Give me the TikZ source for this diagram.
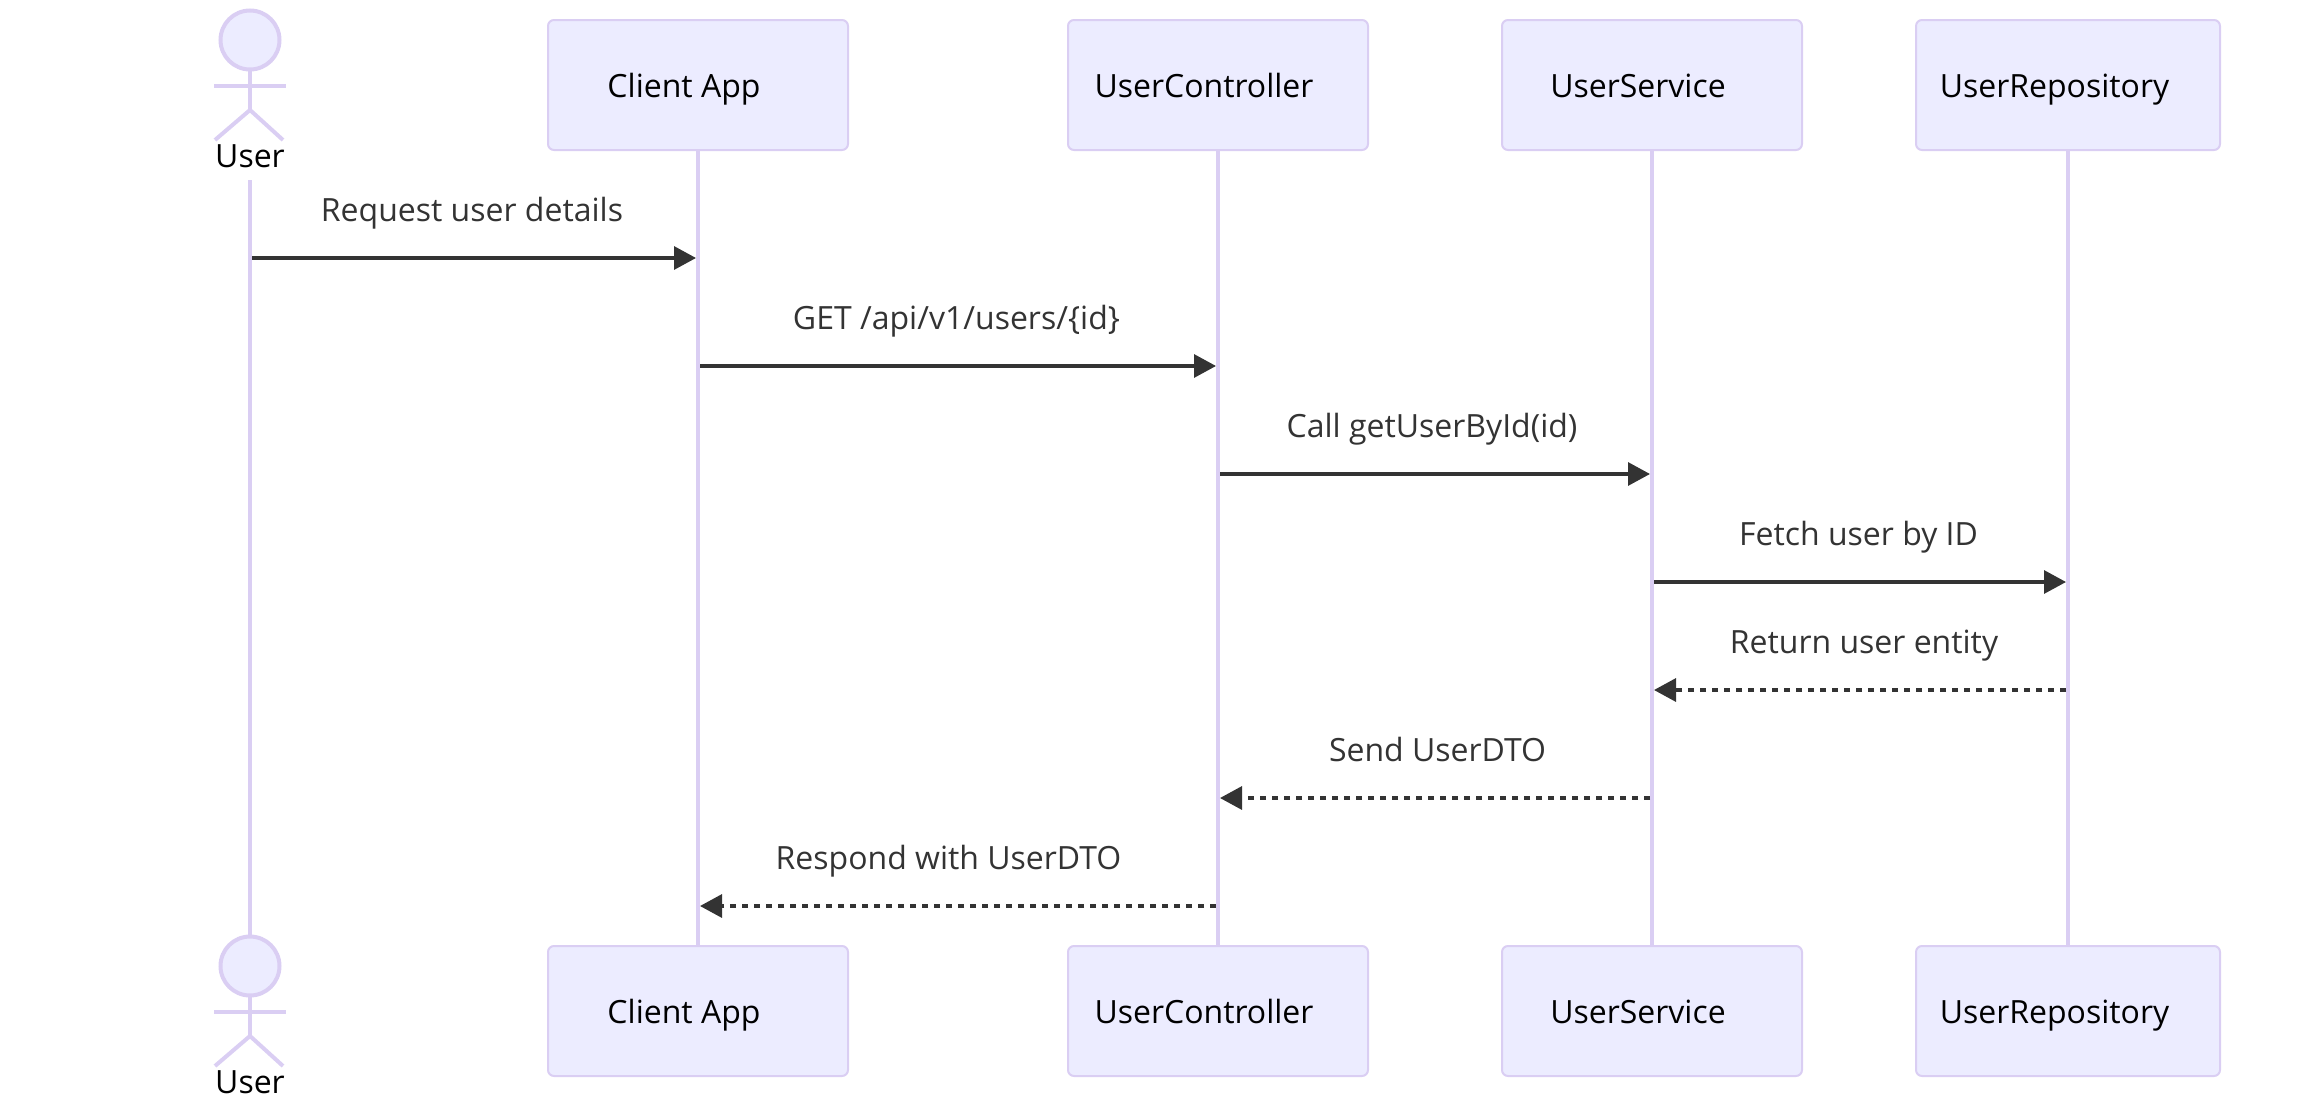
\documentclass[tikz,border=0pt]{standalone}
\usepackage{fontspec}
\setmainfont{Open Sans}
\usetikzlibrary{arrows.meta}
\definecolor{lav}{HTML}{DACEF3}
\definecolor{lavfill}{HTML}{ECECFF}
\definecolor{ink}{HTML}{333333}
\tikzset{
  every node/.style={font=\fontsize{16pt}{19pt}\selectfont},
  actorbox/.style={draw=lav,fill=lavfill,line width=1pt,rounded corners=3pt,minimum width=150pt,minimum height=65pt,inner sep=0pt,outer sep=0pt},
  actorwide/.style={actorbox,minimum width=152pt},
  boxlabel/.style={text=black,inner sep=0pt,anchor=base},
  msglabel/.style={text=ink,inner sep=0pt,anchor=base},
  head/.style={draw=lav,fill=lavfill,line width=2pt,circle,minimum size=29.5pt,inner sep=0pt,outer sep=0pt},
  limb/.style={draw=lav,line width=2pt},
  lifeline/.style={draw=lav,line width=2pt},
  msgsolid/.style={draw=ink,line width=1.6pt,-{Triangle[length=11pt,width=11.5pt,fill=ink]}},
  msgdash/.style={draw=ink,line width=1.6pt,dash pattern=on 3pt off 3pt,-{Triangle[length=11pt,width=11.5pt,fill=ink]}},
}
\begin{document}
\begin{tikzpicture}[x=0.5pt,y=-0.5pt]
\useasboundingbox (0,0) rectangle (2320,1098);
% lifeline anchors
\coordinate (uTop) at (250,180);
% top boxes
\node[actorbox] (cT) at (698,85) {};
\node[actorbox] (ucT) at (1218,85) {};
\node[actorbox] (usT) at (1652,85) {};
\node[actorwide] (urT) at (2068,85) {};
% bottom boxes
\node[actorbox] (cB) at (698,1011) {};
\node[actorbox] (ucB) at (1218,1011) {};
\node[actorbox] (usB) at (1652,1011) {};
\node[actorwide] (urB) at (2068,1011) {};
% bottom actor head
\node[head] (hB) at (250,966) {};
% lifelines
\draw[lifeline] (uTop) -- (hB.north);
\draw[lifeline] (cT.south) -- (cB.north);
\draw[lifeline] (ucT.south) -- (ucB.north);
\draw[lifeline] (usT.south) -- (usB.north);
\draw[lifeline] (urT.south) -- (urB.north);
% top actor
\node[head] (hT) at (250,40) {};
\coordinate (hipT) at (250,110);
\coordinate (armLT) at (214,86);
\coordinate (armRT) at (286,86);
\coordinate (legLT) at (215,140);
\coordinate (legRT) at (283,140);
\draw[limb] (hT.south) -- (hipT);
\draw[limb] (armLT) -- (armRT);
\draw[limb] (legLT) -- (hipT) -- (legRT);
\node[boxlabel] (userT) at (250,167) {User};
% bottom actor limbs
\coordinate (hipB) at (250,1036);
\coordinate (armLB) at (214,1012);
\coordinate (armRB) at (286,1012);
\coordinate (legLB) at (215,1066);
\coordinate (legRB) at (283,1066);
\draw[limb] (hB.south) -- (hipB);
\draw[limb] (armLB) -- (armRB);
\draw[limb] (legLB) -- (hipB) -- (legRB);
\node[boxlabel] (userB) at (250,1093) {User};
% box labels
\node[boxlabel] (tc1) at (684,97) {Client App};
\node[boxlabel] (tc2) at (1204,97) {UserController};
\node[boxlabel] (tc3) at (1638,97) {UserService};
\node[boxlabel] (tc4) at (2054.5,97) {UserRepository};
\node[boxlabel] (bc1) at (684,1023) {Client App};
\node[boxlabel] (bc2) at (1204,1023) {UserController};
\node[boxlabel] (bc3) at (1638,1023) {UserService};
\node[boxlabel] (bc4) at (2054.5,1023) {UserRepository};
% message end points
\coordinate (m1s) at (252,258);   \coordinate (m1e) at (696,258);
\coordinate (m2s) at (700,366);   \coordinate (m2e) at (1216,366);
\coordinate (m3s) at (1220,474);  \coordinate (m3e) at (1650,474);
\coordinate (m4s) at (1654,582);  \coordinate (m4e) at (2066,582);
\coordinate (m5s) at (2066,690);  \coordinate (m5e) at (1654,690);
\coordinate (m6s) at (1650,798);  \coordinate (m6e) at (1220,798);
\coordinate (m7s) at (1216,906);  \coordinate (m7e) at (700,906);
\draw[msgsolid] (m1s) -- (m1e);
\draw[msgsolid] (m2s) -- (m2e);
\draw[msgsolid] (m3s) -- (m3e);
\draw[msgsolid] (m4s) -- (m4e);
\draw[msgdash] (m5s) -- (m5e);
\draw[msgdash] (m6s) -- (m6e);
\draw[msgdash] (m7s) -- (m7e);
% message labels
\node[msglabel] (l1) at (472,221) {Request user details};
\node[msglabel] (l2) at (956.5,329) {GET /api/v1/users/\{id\}};
\node[msglabel] (l3) at (1432,437) {Call getUserById(id)};
\node[msglabel] (l4) at (1858.5,545) {Fetch user by ID};
\node[msglabel] (l5) at (1864,653) {Return user entity};
\node[msglabel] (l6) at (1437.5,761) {Send UserDTO};
\node[msglabel] (l7) at (948.5,869) {Respond with UserDTO};
\end{tikzpicture}
\end{document}
